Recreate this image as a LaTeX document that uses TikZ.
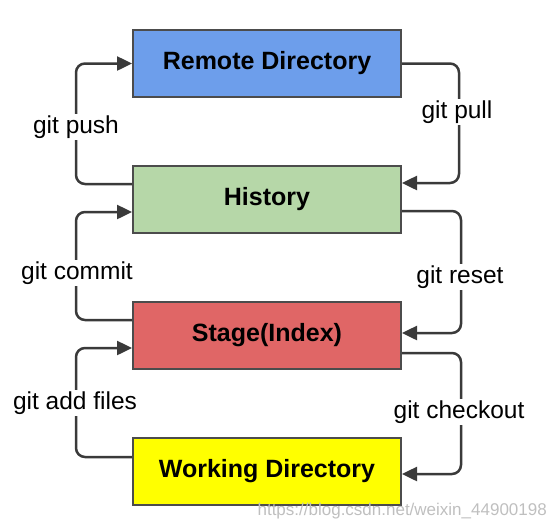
\documentclass[tikz,border=0pt]{standalone}
\usepackage{fontspec}
\setmainfont{Liberation Sans}
\usetikzlibrary{arrows.meta,positioning}
\definecolor{remoteblue}{HTML}{6D9EEB}
\definecolor{historygreen}{HTML}{B6D7A8}
\definecolor{stagered}{HTML}{E06666}
\definecolor{workyellow}{HTML}{FFFF00}
\definecolor{linegray}{HTML}{3A3A3A}

\begin{document}
\begin{tikzpicture}
        [
            x=1pt, y=-1pt,
            area/.style={draw=black!70, line width=2pt, minimum width=268pt, minimum height=67pt, inner sep=0pt, font=\fontsize{25}{30}\selectfont\bfseries},
            cmd/.style={fill=white, inner sep=1.5pt, font=\fontsize{24.5}{28}\selectfont},
            flow/.style={-{Triangle[length=15pt,width=14pt]}, line width=2.5pt, draw=linegray, rounded corners=9pt},
        ]
            \useasboundingbox (0,0) rectangle (555,528);

            \node[area, fill=remoteblue] (remote) at (267, 63.5) {Remote Directory};
            \node[area, fill=historygreen] (history) at (267, 199.5) {History};
            \node[area, fill=stagered] (stage) at (267, 335) {Stage(Index)};
            \node[area, fill=workyellow] (work) at (267, 471) {Working Directory};

            \draw[flow] ([yshift=15.5pt]history.west) -- ++(-56,0) |- (remote.west);
            \draw[flow] (remote.east) -- ++(57,0) |- ([yshift=16.5pt]history.east);
            \draw[flow] ([yshift=15pt]stage.west) -- ++(-56,0) |- ([yshift=-12.5pt]history.west);
            \draw[flow] ([yshift=-11.5pt]history.east) -- ++(59,0) |- ([yshift=2pt]stage.east);
            \draw[flow] ([yshift=14pt]work.west) -- ++(-56,0) |- ([yshift=-13pt]stage.west);
            \draw[flow] ([yshift=-18pt]stage.east) -- ++(59,0) |- ([yshift=-3pt]work.east);

            \node[cmd] (push) at (76, 127) {git push};
            \node[cmd] (pull) at (457, 112) {git pull};
            \node[cmd] (commit) at (77, 273) {git commit};
            \node[cmd] (reset) at (460, 277) {git reset};
            \node[cmd] (add) at (75, 403) {git add files};
            \node[cmd] (checkout) at (459, 412) {git checkout};

            \node[anchor=east, inner sep=0pt, text=black!25, font=\fontsize{17}{20}\selectfont] (mark) at (547, 511) {https://blog.csdn.net/weixin\_44900198};
        \end{tikzpicture}
\end{document}
